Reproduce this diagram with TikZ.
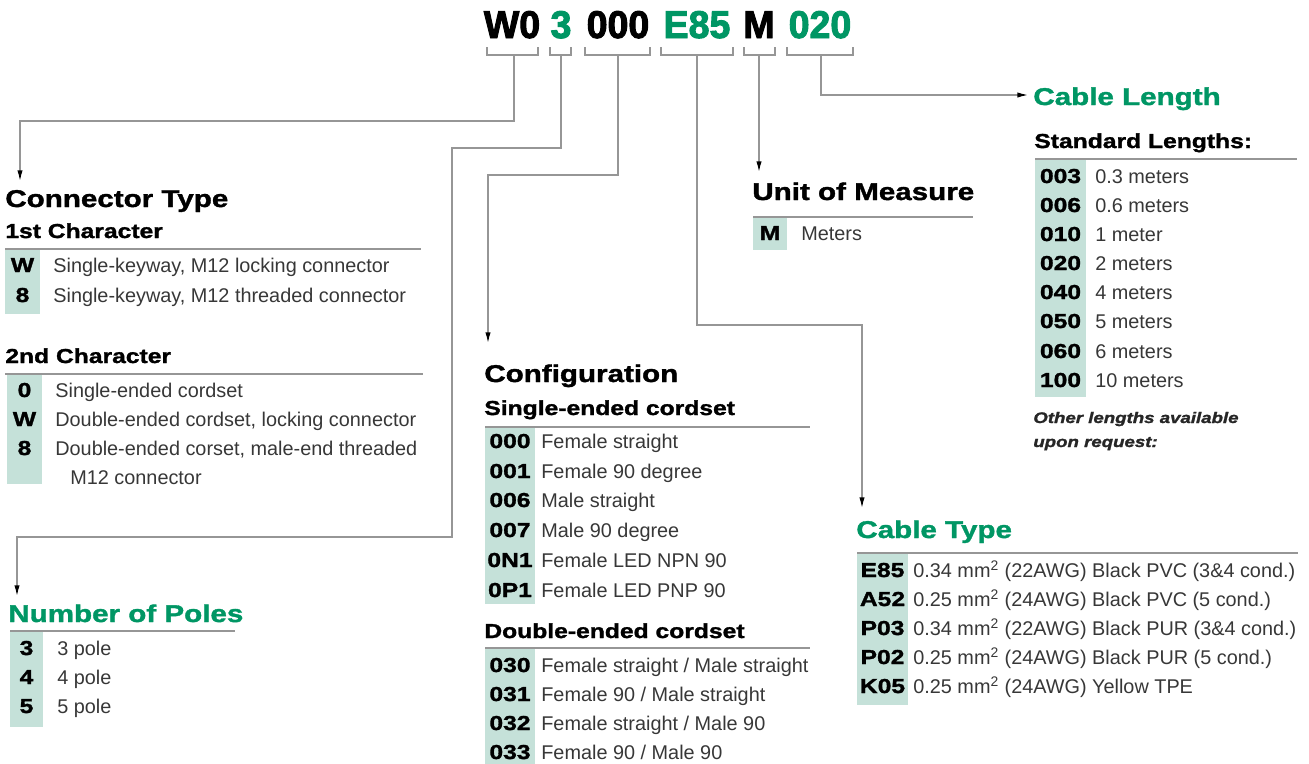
\documentclass[tikz,border=0pt]{standalone}
\usepackage{fontspec}
\setmainfont{Liberation Sans}
\newfontfamily\heavy[FakeStretch=1.22,FakeBold=1.5]{Liberation Sans Bold}
\newfontfamily\heavyit[FakeStretch=1.22,FakeBold=1.5]{Liberation Sans Bold Italic}
\newfontfamily\topcode[FakeStretch=0.97,FakeBold=2.5]{Liberation Sans Bold}
\usetikzlibrary{arrows.meta}
\definecolor{keygreen}{RGB}{0,150,100}
\definecolor{keyteal}{RGB}{197,225,217}
\definecolor{bodygray}{RGB}{55,55,55}
\definecolor{linegray}{RGB}{150,150,150}
\tikzset{
	hd/.style={anchor=base west, inner sep=0pt, font=\heavy\fontsize{13.8}{16}\selectfont},
	subhd/.style={anchor=base west, inner sep=0pt, font=\heavy\fontsize{11.5}{13}\selectfont},
	codekey/.style={anchor=base, inner sep=0pt, font=\heavy\fontsize{11.5}{13}\selectfont},
	txt/.style={anchor=base west, inner sep=0pt, text=bodygray, font=\fontsize{11.3}{13}\selectfont},
	note/.style={anchor=base west, inner sep=0pt, text=black!85, font=\heavyit\fontsize{8.7}{10}\selectfont},
	topkey/.style={anchor=base, inner sep=0pt, font=\topcode\fontsize{22}{24}\selectfont},
	hrule/.style={draw=linegray, line width=0.6pt},
	keybox/.style={fill=keyteal},
	leader/.style={draw=linegray, line width=0.7pt, -{Latex[length=6pt,width=3pt,color=black]}},
}

\begin{document}
\begin{tikzpicture}[x=0.02cm, y=-0.02cm]
			%%%%% START %%%%%
			\useasboundingbox (0,0) rectangle (1309,764);
			
			% part number
			\node[topkey] (cW) at (512,38) {W0};
			\node[topkey, text=keygreen] (c3) at (561,38) {3};
			\node[topkey] (c000) at (618,38) {000};
			\node[topkey, text=keygreen] (cE) at (697,38) {E85};
			\node[topkey] (cM) at (759,38) {M};
			\node[topkey, text=keygreen] (cL) at (820,38) {020};
			
			\draw[hrule] (487,47) -- (487,55) -- (538,55) -- (538,47);
			\draw[hrule] (550,47) -- (550,55) -- (571,55) -- (571,47);
			\draw[hrule] (585,47) -- (585,55) -- (650,55) -- (650,47);
			\draw[hrule] (661,47) -- (661,55) -- (733,55) -- (733,47);
			\draw[hrule] (744,47) -- (744,55) -- (775,55) -- (775,47);
			\draw[hrule] (787,47) -- (787,55) -- (853,55) -- (853,47);
			
			\coordinate (bW) at (514,55);
			\coordinate (b3) at (561,55);
			\coordinate (b000) at (618,55);
			\coordinate (bE) at (697,55);
			\coordinate (bM) at (759,55);
			\coordinate (bL) at (821,55);
			
			% connector type
			\coordinate (tConn) at (20,181);
			\node[hd] (conntype) at (5,207) {Connector Type};
			\node[subhd] (first) at (5,238) {1st Character};
			\draw[hrule] (5,249) -- (421,249);
			\fill[keybox] (5,250) rectangle (40,314);
			\node[codekey] at (22.5,272) {W};
			\node[txt] at (53,272) {Single-keyway, M12 locking connector};
			\node[codekey] at (22.5,302) {8};
			\node[txt] at (53,302) {Single-keyway, M12 threaded connector};
			
			\node[subhd] (second) at (5,363) {2nd Character};
			\draw[hrule] (5,374) -- (423,374);
			\fill[keybox] (7,375) rectangle (42,484);
			\node[codekey] at (24.5,397) {0};
			\node[txt] at (55,397) {Single-ended cordset};
			\node[codekey] at (24.5,426) {W};
			\node[txt] at (55,426) {Double-ended cordset, locking connector};
			\node[codekey] at (24.5,455) {8};
			\node[txt] at (55,455) {Double-ended corset, male-end threaded};
			\node[txt] at (70,484) {M12 connector};
			
			% number of poles
			\coordinate (tPoles) at (17,596);
			\node[hd, text=keygreen] (poles) at (8,622) {Number of Poles};
			\draw[hrule] (10,631) -- (235,631);
			\fill[keybox] (10,632) rectangle (43,727);
			\node[codekey] at (26.5,655) {3};
			\node[txt] at (57,655) {3 pole};
			\node[codekey] at (26.5,684) {4};
			\node[txt] at (57,684) {4 pole};
			\node[codekey] at (26.5,713) {5};
			\node[txt] at (57,713) {5 pole};
			
			% configuration
			\coordinate (tConf) at (488,343);
			\node[hd] (config) at (484,382) {Configuration};
			\node[subhd] (single) at (484,415) {Single-ended cordset};
			\draw[hrule] (485,427) -- (810,427);
			\fill[keybox] (485,428) rectangle (535,604);
			\node[codekey] at (510,448) {000};
			\node[txt] at (541,448) {Female straight};
			\node[codekey] at (510,478) {001};
			\node[txt] at (541,478) {Female 90 degree};
			\node[codekey] at (510,507) {006};
			\node[txt] at (541,507) {Male straight};
			\node[codekey] at (510,537) {007};
			\node[txt] at (541,537) {Male 90 degree};
			\node[codekey] at (510,567) {0N1};
			\node[txt] at (541,567) {Female LED NPN 90};
			\node[codekey] at (510,597) {0P1};
			\node[txt] at (541,597) {Female LED PNP 90};
			
			\node[subhd] (double) at (484,638) {Double-ended cordset};
			\draw[hrule] (485,648) -- (810,648);
			\fill[keybox] (485,649) rectangle (535,764);
			\node[codekey] at (510,672) {030};
			\node[txt] at (541,672) {Female straight / Male straight};
			\node[codekey] at (510,701) {031};
			\node[txt] at (541,701) {Female 90 / Male straight};
			\node[codekey] at (510,730) {032};
			\node[txt] at (541,730) {Female straight / Male 90};
			\node[codekey] at (510,759) {033};
			\node[txt] at (541,759) {Female 90 / Male 90};
			
			% unit of measure
			\coordinate (tUnit) at (759,172);
			\node[hd] (unit) at (752,200) {Unit of Measure};
			\draw[hrule] (753,217) -- (973,217);
			\fill[keybox] (753,218) rectangle (787,250);
			\node[codekey] at (770,240) {M};
			\node[txt] at (801,240) {Meters};
			
			% cable length
			\coordinate (tLen) at (1028,95);
			\node[hd, text=keygreen] (length) at (1033,105) {Cable Length};
			\node[subhd] (std) at (1034,148) {Standard Lengths:};
			\draw[hrule] (1035,159) -- (1297,159);
			\fill[keybox] (1035,160) rectangle (1086,397);
			\node[codekey] at (1060.5,183) {003};
			\node[txt] at (1095,183) {0.3 meters};
			\node[codekey] at (1060.5,212) {006};
			\node[txt] at (1095,212) {0.6 meters};
			\node[codekey] at (1060.5,241) {010};
			\node[txt] at (1095,241) {1 meter};
			\node[codekey] at (1060.5,270) {020};
			\node[txt] at (1095,270) {2 meters};
			\node[codekey] at (1060.5,299) {040};
			\node[txt] at (1095,299) {4 meters};
			\node[codekey] at (1060.5,328) {050};
			\node[txt] at (1095,328) {5 meters};
			\node[codekey] at (1060.5,358) {060};
			\node[txt] at (1095,358) {6 meters};
			\node[codekey] at (1060.5,387) {100};
			\node[txt] at (1095,387) {10 meters};
			\node[note] at (1033,423) {Other lengths available};
			\node[note] at (1033,447) {upon request:};
			
			% cable type
			\coordinate (tCab) at (862,508);
			\node[hd, text=keygreen] (cabtype) at (856,538) {Cable Type};
			\draw[hrule] (857,553) -- (1298,553);
			\fill[keybox] (857,554) rectangle (908,705);
			\node[codekey] at (882.5,577) {E85};
			\node[txt] at (913,577) {0.34 mm\textsuperscript{2} (22AWG) Black PVC (3\&4 cond.)};
			\node[codekey] at (882.5,606) {A52};
			\node[txt] at (913,606) {0.25 mm\textsuperscript{2} (24AWG) Black PVC (5 cond.)};
			\node[codekey] at (882.5,635) {P03};
			\node[txt] at (913,635) {0.34 mm\textsuperscript{2} (22AWG) Black PUR (3\&4 cond.)};
			\node[codekey] at (882.5,664) {P02};
			\node[txt] at (913,664) {0.25 mm\textsuperscript{2} (24AWG) Black PUR (5 cond.)};
			\node[codekey] at (882.5,693) {K05};
			\node[txt] at (913,693) {0.25 mm\textsuperscript{2} (24AWG) Yellow TPE};
			
			% leaders
			\draw[leader] (bW) -- ++(0,66) -| (tConn);
			\draw[leader] (b3) -- ++(0,93) -| (452,537) -| (tPoles);
			\draw[leader] (b000) -- ++(0,120) -| (tConf);
			\draw[leader] (bE) -- ++(0,270) -| (tCab);
			\draw[leader] (bM) -- (tUnit);
			\draw[leader] (bL) |- (tLen);
			
			%%%%% END %%%%%
\end{tikzpicture}
\end{document}
